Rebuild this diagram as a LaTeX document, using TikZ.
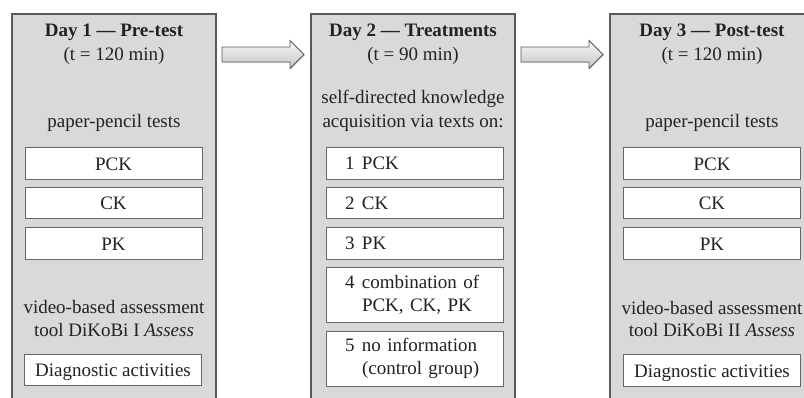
\documentclass[tikz,border=0pt]{standalone}
\usepackage{fontspec}
\setmainfont{Liberation Serif}
\usetikzlibrary{shadows}
\definecolor{panelfill}{HTML}{D9D9D9}
\definecolor{panelline}{HTML}{5A5A5A}
\definecolor{boxline}{HTML}{666666}
\definecolor{ink}{HTML}{222222}
\newcommand{\tnum}[1]{\makebox[17pt][l]{#1}}
\begin{document}
\begin{tikzpicture}[x=1pt,y=-1pt,
  font=\fontsize{19}{23}\selectfont, text=ink,
  panel/.style={draw=panelline, line width=1.2pt, fill=panelfill,
    minimum width=204pt, minimum height=420pt, inner sep=0pt},
  wbox/.style={draw=boxline, line width=0.9pt, fill=white,
    minimum width=177pt, minimum height=31.5pt, inner sep=0pt,
    text height=13pt, text depth=0pt},
  lbox/.style={draw=boxline, line width=0.9pt, fill=white,
    text width=139pt, inner xsep=19pt, inner ysep=0pt, align=left,
    minimum height=31.5pt},
  lbl/.style={anchor=base, inner sep=0pt},
  bigarrow/.style={draw=panelline, line width=0.8pt,
    top color=gray!6, bottom color=gray!45,
    drop shadow={opacity=0.25, shadow xshift=1pt, shadow yshift=-1pt}}]
\useasboundingbox (0,0) rectangle (804,397);
\clip (0,0) rectangle (804,397);

% panels
\node[panel] (p1) at (114,224) {};
\node[panel] (p2) at (413,224) {};
\node[panel] (p3) at (712,224) {};

% arrows
\coordinate (a1) at (222,54.5);
\coordinate (a2) at (521,54.5);
\foreach \a in {a1,a2}{
  \draw[bigarrow] (\a) ++(0,-7.5) -- ++(68,0) -- ++(0,-6.5) -- ++(14,14)
    -- ++(-14,14) -- ++(0,-6.5) -- ++(-68,0) -- cycle;
}

% Day 1
\node[lbl] (t1) at (114,36.5) {\textbf{Day 1 — Pre-test}};
\node[lbl] (d1) at (114,60.5) {(t = 120 min)};
\node[lbl] (pp1) at (114,127) {paper-pencil tests};
\node[wbox] (b11) at (113.5,163.5) {PCK};
\node[wbox] (b12) at (113.5,203) {CK};
\node[wbox] (b13) at (113.5,243.5) {PK};
\node[lbl] (v1) at (114,313.5) {video-based assessment};
\node[lbl] (w1) at (114,336) {tool DiKoBi I \textit{Assess}};
\node[wbox] (da1) at (113,370) {Diagnostic activities};

% Day 2
\node[lbl] (t2) at (413,36.5) {\textbf{Day 2 — Treatments}};
\node[lbl] (d2) at (413,60.5) {(t = 90 min)};
\node[lbl] (s2) at (413,103.5) {self-directed knowledge};
\node[lbl] (s2b) at (413,127) {acquisition via texts on:};
\node[lbox] (c1) at (414.5,163.5) {\tnum{1}PCK};
\node[lbox] (c2) at (414.5,203) {\tnum{2}CK};
\node[lbox] (c3) at (414.5,243.5) {\tnum{3}PK};
\node[lbox, minimum height=55pt] (c4) at (414.5,294.5)
  {\tnum{4}combination of\\\hspace*{17pt}PCK, CK, PK};
\node[lbox, minimum height=55pt] (c5) at (414.5,358.5)
  {\tnum{5}no information\\\hspace*{17pt}(control group)};

% Day 3
\node[lbl] (t3) at (712,36.5) {\textbf{Day 3 — Post-test}};
\node[lbl] (d3) at (712,60.5) {(t = 120 min)};
\node[lbl] (pp3) at (712,127) {paper-pencil tests};
\node[wbox] (b31) at (712,163.5) {PCK};
\node[wbox] (b32) at (712,203) {CK};
\node[wbox] (b33) at (712,243.5) {PK};
\node[lbl] (v3) at (712,314.5) {video-based assessment};
\node[lbl] (w3) at (712,336.5) {tool DiKoBi II \textit{Assess}};
\node[wbox] (da3) at (712,370.5) {Diagnostic activities};
\end{tikzpicture}
\end{document}
